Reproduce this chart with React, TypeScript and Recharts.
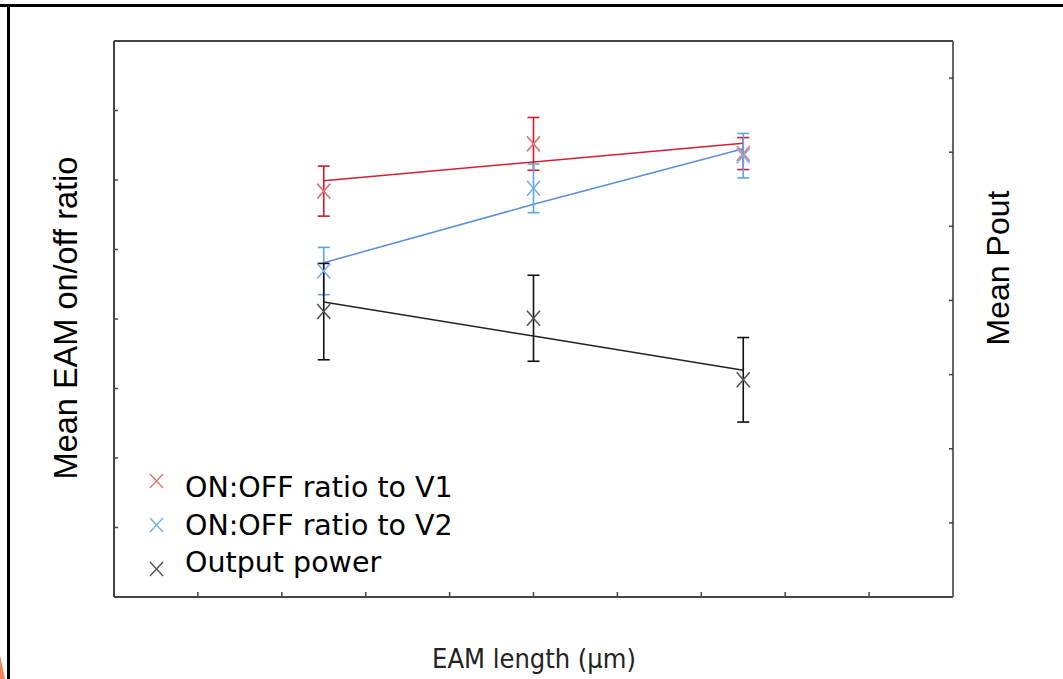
import React from 'react'
import { ComposedChart, Scatter, Line, XAxis, YAxis, ErrorBar } from 'recharts'

// EAM length (um) for the three device groups
const lengths = [50, 100, 150]

// ON:OFF ratio to V1 (left axis)
const ratioV1 = [5.84, 6.52, 6.38]
const ratioV1Err = [0.36, 0.38, 0.23]
const ratioV1Fit = [5.99, 6.26, 6.53]

// ON:OFF ratio to V2 (left axis)
const ratioV2 = [4.69, 5.88, 6.35]
const ratioV2Err = [0.34, 0.35, 0.32]
const ratioV2Fit = [4.81, 5.65, 6.45]

// Output power (right axis)
const pout = [3.85, 3.76, 2.93]
const poutErr = [0.65, 0.58, 0.57]
const poutFit = [3.98, 3.52, 3.06]

const xTicks = [20, 40, 60, 80, 100, 120, 140, 160, 180]
const leftTicks = [1, 2, 3, 4, 5, 6, 7]
const rightTicks = [1, 2, 3, 4, 5, 6, 7]

const legendItems = ['ON:OFF ratio to V1', 'ON:OFF ratio to V2', 'Output power']

const rows = lengths.map((len, i) => ({
  len,
  v1: ratioV1[i],
  v1Err: ratioV1Err[i],
  v1Fit: ratioV1Fit[i],
  v2: ratioV2[i],
  v2Err: ratioV2Err[i],
  v2Fit: ratioV2Fit[i],
  pout: pout[i],
  poutErr: poutErr[i],
  poutFit: poutFit[i],
}))

const cross = (color: string) => (props: any) => {
  const { cx, cy } = props
  const rx = 6.5
  const ry = 7.5
  return (
    <path
      d={`M${cx - rx},${cy - ry}L${cx + rx},${cy + ry}M${cx - rx},${cy + ry}L${cx + rx},${cy - ry}`}
      stroke={color}
      strokeWidth={1.6}
      fill="none"
    />
  )
}

// tick lines only, no labels
const noLabel = () => <g />

const axisColor = '#444'

const App = () => {
  const markerColors = ['#e27575', '#78aee8', '#555']
  return (
    <div
      style={{
        position: 'absolute',
        left: 0,
        top: 0,
        width: 1063,
        height: 679,
        background: '#fff',
        overflow: 'hidden',
      }}
    >
      <div style={{ position: 'absolute', left: 0, top: 4, width: 1063, height: 3, background: '#000' }} />
      <div style={{ position: 'absolute', left: 7, top: 4, width: 3, height: 675, background: '#000' }} />
      <div
        style={{
          position: 'absolute',
          left: 0,
          top: 655,
          width: 5,
          height: 24,
          background: '#f2855c',
          clipPath: 'polygon(0 0, 100% 100%, 0 100%)',
        }}
      />

      <div style={{ position: 'absolute', left: 0, top: 0 }}>
        <ComposedChart
          width={1063}
          height={679}
          data={rows}
          margin={{ top: 40, right: 110, bottom: 82, left: 114 }}
        >
          <XAxis
            xAxisId="bottom"
            dataKey="len"
            type="number"
            domain={[0, 200]}
            ticks={xTicks}
            tick={noLabel}
            mirror
            tickSize={5}
            height={1}
            axisLine={{ stroke: axisColor, strokeWidth: 2 }}
            tickLine={{ stroke: axisColor, strokeWidth: 1.5 }}
          />
          <XAxis
            xAxisId="top"
            orientation="top"
            dataKey="len"
            type="number"
            domain={[0, 200]}
            tick={false}
            tickLine={false}
            height={1}
            axisLine={{ stroke: axisColor, strokeWidth: 2 }}
          />
          <YAxis
            yAxisId="left"
            type="number"
            domain={[0, 8]}
            ticks={leftTicks}
            tick={noLabel}
            mirror
            tickSize={4}
            width={1}
            axisLine={{ stroke: axisColor, strokeWidth: 2 }}
            tickLine={{ stroke: axisColor, strokeWidth: 1.5 }}
          />
          <YAxis
            yAxisId="right"
            orientation="right"
            type="number"
            domain={[0, 7.5]}
            ticks={rightTicks}
            tick={noLabel}
            mirror
            tickSize={4}
            width={1}
            axisLine={{ stroke: '#666', strokeWidth: 2 }}
            tickLine={{ stroke: axisColor, strokeWidth: 1.5 }}
          />

          <Line
            xAxisId="bottom"
            yAxisId="left"
            dataKey="v1Fit"
            stroke="#d42030"
            strokeWidth={1.5}
            dot={false}
            isAnimationActive={false}
          />
          <Line
            xAxisId="bottom"
            yAxisId="left"
            dataKey="v2Fit"
            stroke="#5a8ee0"
            strokeWidth={1.5}
            dot={false}
            isAnimationActive={false}
          />
          <Line
            xAxisId="bottom"
            yAxisId="right"
            dataKey="poutFit"
            stroke="#222"
            strokeWidth={1.5}
            dot={false}
            isAnimationActive={false}
          />

          <Scatter
            xAxisId="bottom"
            yAxisId="left"
            dataKey="v1"
            shape={cross(markerColors[0])}
            isAnimationActive={false}
          >
            <ErrorBar dataKey="v1Err" direction="y" width={6} stroke="#d01c28" strokeWidth={1.6} />
          </Scatter>
          <Scatter
            xAxisId="bottom"
            yAxisId="left"
            dataKey="v2"
            shape={cross(markerColors[1])}
            isAnimationActive={false}
          >
            <ErrorBar dataKey="v2Err" direction="y" width={6} stroke="#5aa6e6" strokeWidth={1.6} />
          </Scatter>
          <Scatter
            xAxisId="bottom"
            yAxisId="right"
            dataKey="pout"
            shape={cross(markerColors[2])}
            isAnimationActive={false}
          >
            <ErrorBar dataKey="poutErr" direction="y" width={6} stroke="#111" strokeWidth={1.6} />
          </Scatter>
        </ComposedChart>
      </div>

      {/* legend */}
      <svg style={{ position: 'absolute', left: 130, top: 455 }} width={360} height={130}>
        {legendItems.map((name, i) => {
          const my = 26 + i * 44
          const ty = 42 + i * 37.5
          const c = markerColors[i]
          return (
            <g key={name}>
              <path
                d={`M${20},${my - 7}L${33},${my + 7}M${20},${my + 7}L${33},${my - 7}`}
                stroke={c}
                strokeWidth={1.4}
                fill="none"
              />
              <text x={55} y={ty} fontFamily="DejaVu Sans" fontSize={28.5} fill="#000">
                {name}
              </text>
            </g>
          )
        })}
      </svg>

      <div
        style={{
          position: 'absolute',
          left: 66,
          top: 318,
          transform: 'translate(-50%, -50%) rotate(-90deg)',
          whiteSpace: 'nowrap',
          fontFamily: '"Liberation Sans", Arial, sans-serif',
          fontSize: 32.5,
          color: '#000',
        }}
      >
        Mean EAM on/off ratio
      </div>
      <div
        style={{
          position: 'absolute',
          left: 998,
          top: 268,
          transform: 'translate(-50%, -50%) rotate(-90deg)',
          whiteSpace: 'nowrap',
          fontFamily: '"Liberation Sans", Arial, sans-serif',
          fontSize: 32,
          color: '#000',
        }}
      >
        Mean Pout
      </div>
      <div
        style={{
          position: 'absolute',
          left: 534,
          top: 658,
          transform: 'translate(-50%, -50%)',
          whiteSpace: 'nowrap',
          fontFamily: '"Liberation Sans Narrow", "DejaVu Sans Condensed", sans-serif',
          fontSize: 27,
          color: '#222',
        }}
      >
        EAM length (µm)
      </div>
    </div>
  )
}

export default App
